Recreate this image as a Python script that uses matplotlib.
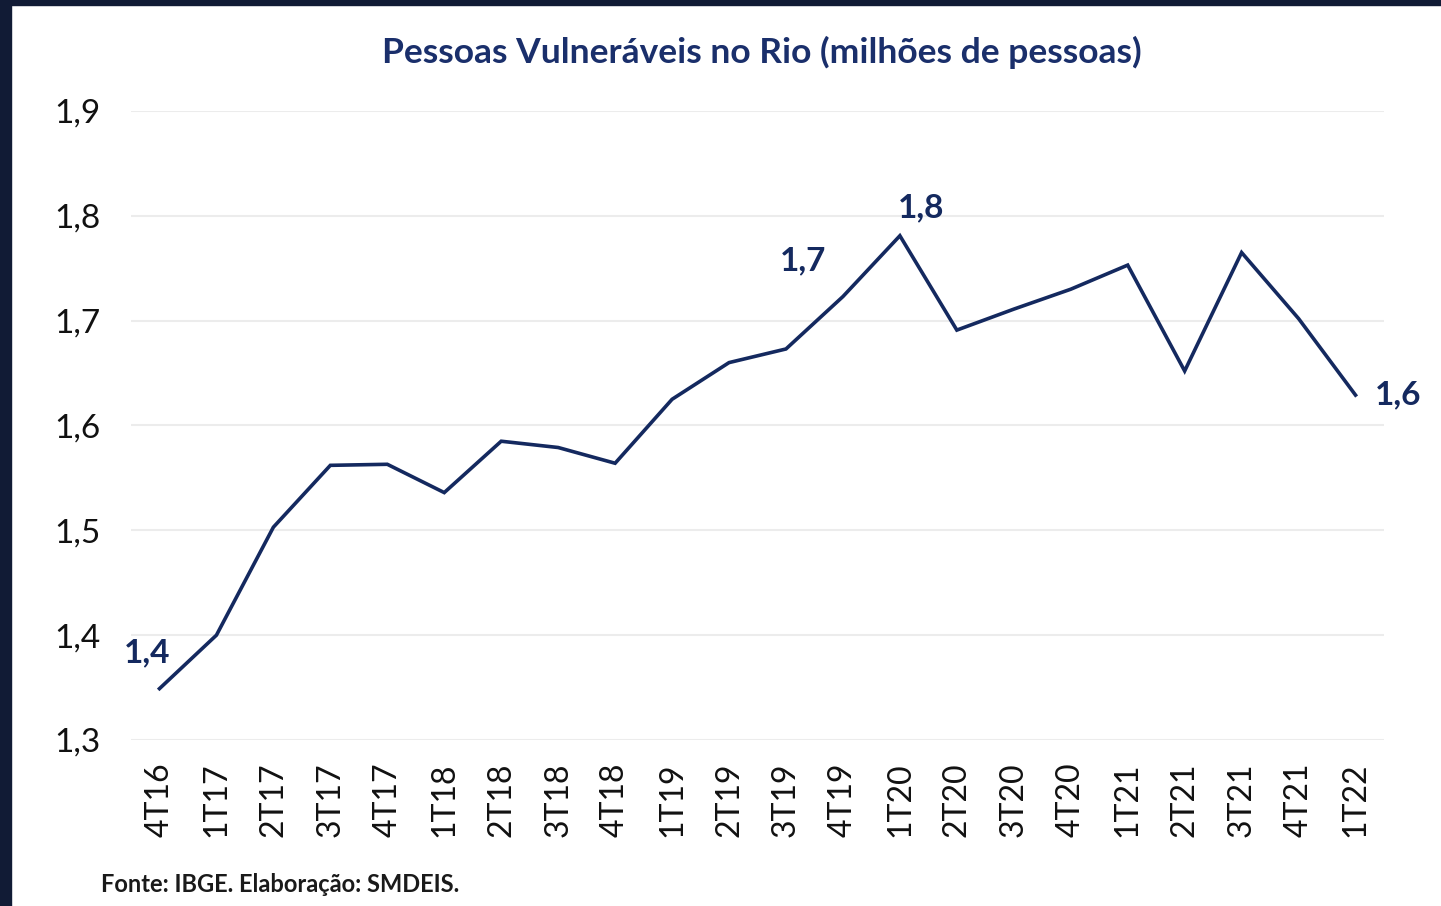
import matplotlib
matplotlib.use('Agg')
import matplotlib.pyplot as plt
from matplotlib.patches import Rectangle

# Data
quarters = ['4T16', '1T17', '2T17', '3T17', '4T17', '1T18', '2T18', '3T18', '4T18',
            '1T19', '2T19', '3T19', '4T19', '1T20', '2T20', '3T20', '4T20',
            '1T21', '2T21', '3T21', '4T21', '1T22']
vulneraveis = [1.349, 1.400, 1.503, 1.562, 1.563, 1.536, 1.585, 1.579, 1.564,
               1.625, 1.660, 1.673, 1.723, 1.781, 1.691, 1.711, 1.730,
               1.753, 1.652, 1.765, 1.702, 1.629]
yticks = [1.3, 1.4, 1.5, 1.6, 1.7, 1.8, 1.9]
# labelled points: (index, text, dx, dy in points)
labels = [(0, '1,4', -9, 26), (12, '1,7', -29, 26), (13, '1,8', 15, 20), (21, '1,6', 31, 0)]

navy = '#14295f'
plt.rcParams['font.family'] = ['Lato', 'DejaVu Sans']

fig = plt.figure(figsize=(14.41, 9.06), dpi=100)
fig.patch.set_facecolor('white')
# dark frame on left and top
fig.patches.append(Rectangle((0, 0), 11 / 1441, 1, transform=fig.transFigure,
                             color='#111b35', zorder=0))
fig.patches.append(Rectangle((0, 1 - 5 / 906), 1, 5 / 906, transform=fig.transFigure,
                             color='#111b35', zorder=0))

ax = fig.add_axes([131 / 1441, 1 - 740 / 906, (1384 - 131) / 1441, (740 - 111) / 906])
x = list(range(len(quarters)))
ax.plot(x, vulneraveis, color=navy, lw=2.6, solid_joinstyle='miter', zorder=3)

ax.set_xlim(-0.5, len(quarters) - 0.5)
ax.set_ylim(1.3, 1.9)
ax.set_yticks(yticks)
ax.set_yticklabels([f'{v:.1f}'.replace('.', ',') for v in yticks], fontsize=24, color='#111111')
ax.set_xticks(x)
ax.set_xticklabels(quarters, rotation=90, fontsize=23, color='#111111')
ax.tick_params(axis='y', length=0, pad=22)
ax.tick_params(axis='x', length=0, pad=16)
ax.grid(axis='y', color='#ececec', lw=1.5)
ax.set_axisbelow(True)
for s in ax.spines.values():
    s.set_visible(False)

for i, txt, dx, dy in labels:
    ax.annotate(txt, (i, vulneraveis[i]), xytext=(dx, dy), textcoords='offset points',
                ha='center', va='center', fontsize=24, fontweight='bold', color=navy)

fig.text(762 / 1441, 1 - 52 / 906, 'Pessoas Vulneráveis no Rio (milhões de pessoas)',
         ha='center', va='center', fontsize=25.5, fontweight='bold', color='#1a2f6b')
fig.text(101 / 1441, 1 - 884 / 906, 'Fonte: IBGE. Elaboração: SMDEIS.',
         ha='left', va='center', fontsize=17, fontweight='bold', color='#1a1a1a')

fig.savefig('out.png', dpi=100)
